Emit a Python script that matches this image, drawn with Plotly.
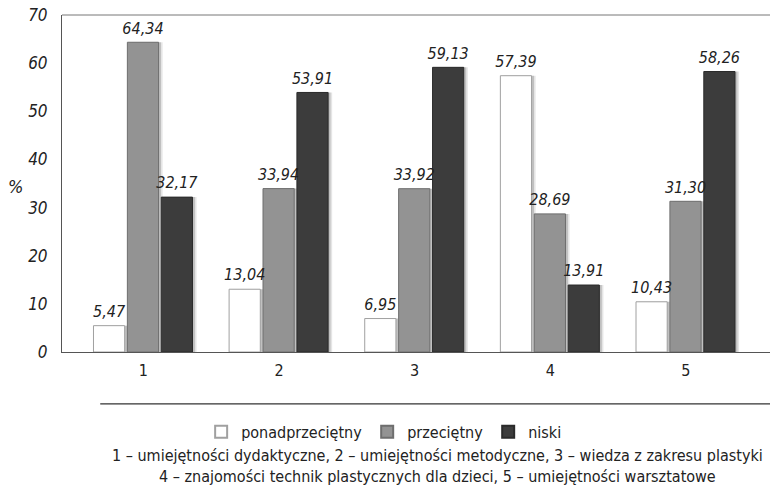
import plotly.graph_objects as go

categories = ["1", "2", "3", "4", "5"]
series_names = ["ponadprzeciętny", "przeciętny", "niski"]
ponad = [5.47, 13.04, 6.95, 57.39, 10.43]
przec = [64.34, 33.94, 33.92, 28.69, 31.30]
niski = [32.17, 53.91, 59.13, 13.91, 58.26]
y_ticks = [0, 10, 20, 30, 40, 50, 60, 70]

FONT = "DejaVu Sans Condensed, Liberation Sans Narrow, sans-serif"
fills = ["#ffffff", "#939393", "#3c3c3c"]
lines = ["#a0a0a0", "#6e6e6e", "#2a2a2a"]
offsets = [-0.368, -0.118, 0.132]
BW = 0.23

xs = list(range(len(categories)))
fig = go.Figure()

# soft shadows
for vals, off in zip([ponad, przec, niski], offsets):
    for dx, alpha in [(0.03, 0.10), (0.018, 0.16)]:
        fig.add_trace(go.Bar(
            x=xs, y=vals, offset=off + dx, width=BW,
            marker=dict(color=f"rgba(0,0,0,{alpha})", line=dict(width=0)),
            showlegend=False, hoverinfo="skip"))

for name, vals, fc, lc, off in zip(series_names, [ponad, przec, niski], fills, lines, offsets):
    fig.add_trace(go.Bar(
        x=xs, y=vals, name=name, offset=off, width=BW,
        marker=dict(color=fc, line=dict(color=lc, width=1)),
    ))

for vals, off in zip([ponad, przec, niski], offsets):
    fig.add_trace(go.Scatter(
        x=[x + off + BW / 2 for x in xs], y=vals, mode="markers+text",
        marker=dict(size=6, opacity=0),
        text=["<i>" + f"{v:.2f}".replace(".", ",") + "</i>" for v in vals],
        textposition="top center",
        textfont=dict(family=FONT, size=16, color="#222"),
        showlegend=False, hoverinfo="skip", cliponaxis=False,
    ))

fig.update_layout(
    width=770, height=491,
    margin=dict(l=62, r=0, t=15, b=139),
    paper_bgcolor="white", plot_bgcolor="white",
    barmode="overlay",
    font=dict(family=FONT, color="#222"),
    showlegend=True,
    legend=dict(orientation="h", x=0.455, xanchor="center", y=-0.237, yanchor="middle",
                font=dict(family=FONT, size=16, color="#222"),
                itemsizing="constant", tracegroupgap=0, itemwidth=30,
                bgcolor="rgba(0,0,0,0)"),
    xaxis=dict(
        range=[-0.6, 4.62],
        tickvals=xs, ticktext=categories,
        showline=True, linecolor="#555", linewidth=1.2,
        ticks="", showgrid=False, zeroline=False,
        tickfont=dict(family=FONT, size=16, color="#222"),
        ticklabelstandoff=4, automargin=False,
    ),
    yaxis=dict(
        range=[0, 70], tickvals=y_ticks,
        ticktext=[f"<i>{t}</i>" for t in y_ticks],
        showline=True, linecolor="#555", linewidth=1,
        ticks="", showgrid=False, zeroline=False,
        tickfont=dict(family=FONT, size=17, color="#222"),
        ticklabelstandoff=10, automargin=False,
    ),
    shapes=[
        dict(type="line", xref="paper", yref="paper", x0=0, x1=1, y0=1, y1=1,
             line=dict(color="#777", width=1)),
        dict(type="line", xref="paper", yref="paper", x0=0.054, x1=1, y0=-0.154, y1=-0.154,
             line=dict(color="#333", width=1.2)),
    ],
    annotations=[
        dict(text="<i>%</i>", xref="paper", yref="paper", x=-0.066, y=0.49,
             xanchor="center", showarrow=False,
             font=dict(family=FONT, size=18, color="#222")),
        dict(text="1 – umiejętności dydaktyczne, 2 – umiejętności metodyczne, 3 – wiedza z zakresu plastyki<br>"
                  "4 – znajomości technik plastycznych dla dzieci, 5 – umiejętności warsztatowe",
             xref="paper", yref="paper", x=0.531, y=-0.338, yanchor="middle",
             xanchor="center", showarrow=False, align="center",
             font=dict(family=FONT, size=16, color="#222")),
    ],
)

fig.write_html("out.html", config={"displayModeBar": False},
               post_script="document.body.style.margin='0';")
